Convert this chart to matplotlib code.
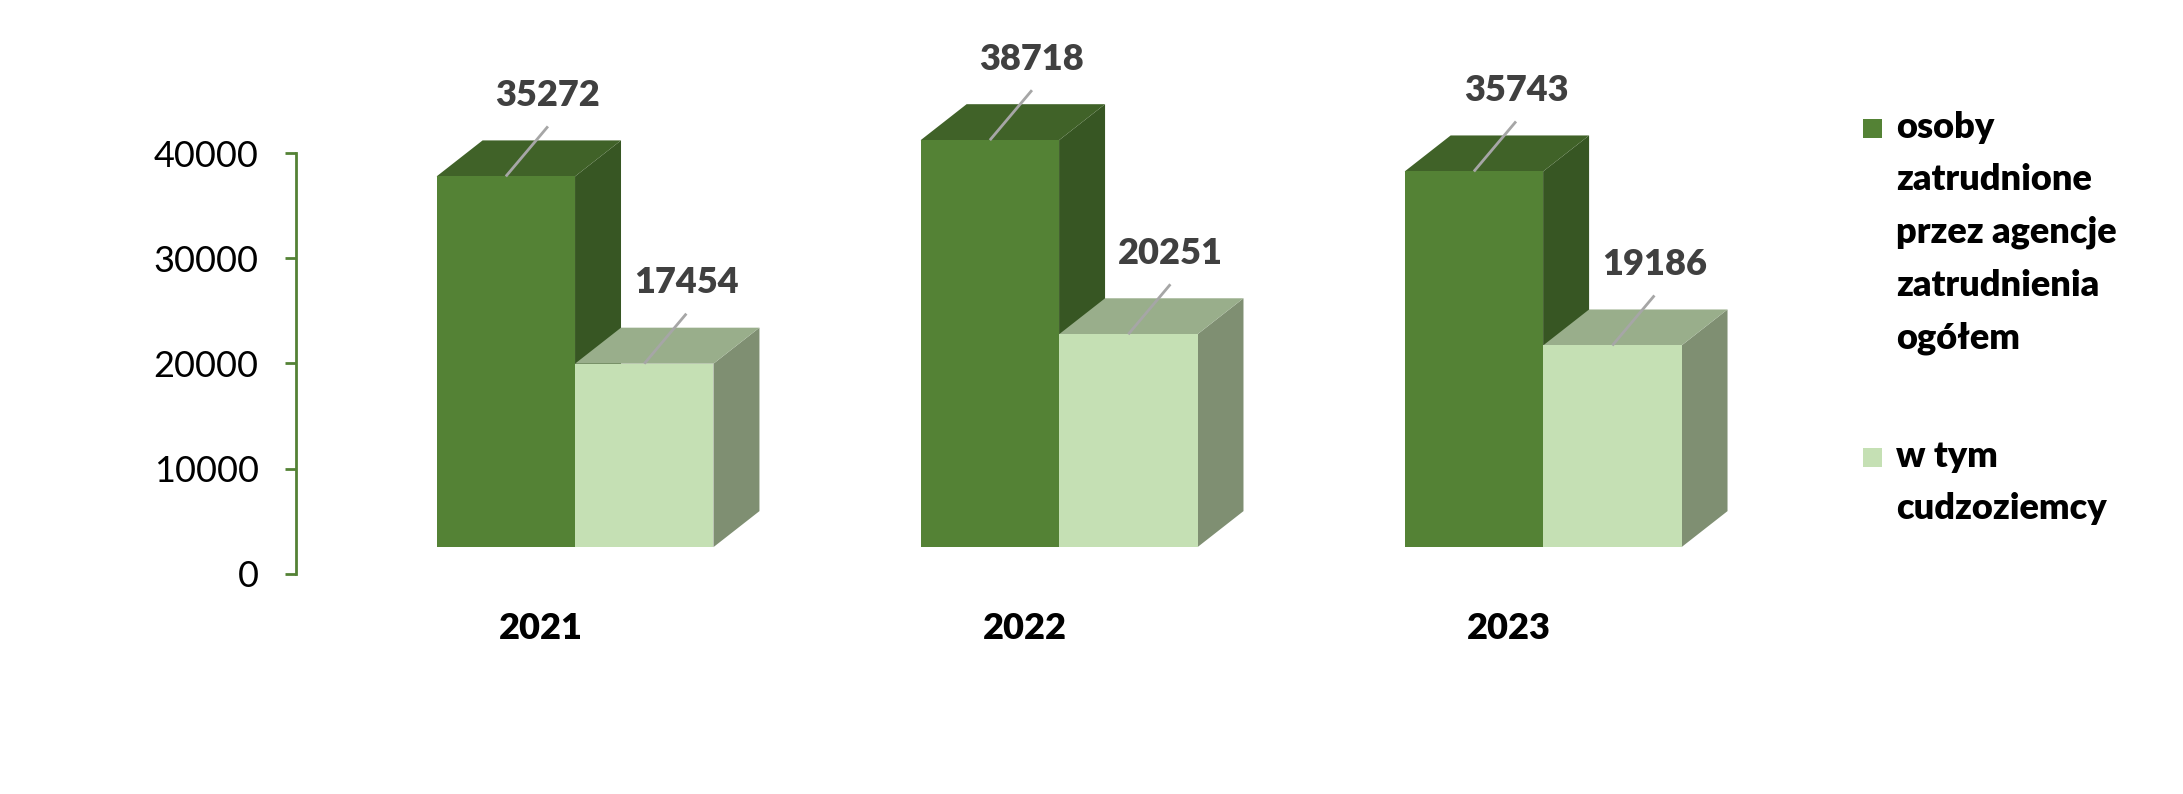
import matplotlib
matplotlib.use("Agg")
import matplotlib.pyplot as plt
from matplotlib.patches import Polygon, Rectangle

years = ["2021", "2022", "2023"]
series_names = ["osoby\nzatrudnione\nprzez agencje\nzatrudnienia\nogółem", "w tym\ncudzoziemcy"]
total = [35272, 38718, 35743]
foreigners = [17454, 20251, 19186]
yticks = [0, 10000, 20000, 30000, 40000]

front_colors = ["#548235", "#c5e0b4"]
top_colors = ["#406228", "#99ae8b"]
side_colors = ["#375623", "#7f8f72"]

plt.rcParams['font.family'] = ['Lato', 'DejaVu Sans']

W, H = 2183, 794
fig = plt.figure(figsize=(W / 100, H / 100), dpi=100)
ax = fig.add_axes([0, 0, 1, 1])
ax.set_xlim(-1.188, 3.322)
ax.set_ylim(-20970, 54576)

bar_w = 0.286
depth_x = 0.095
depth_y = 3425
lift = 2520

for i, vals in enumerate([total, foreigners]):
    for g, v in enumerate(vals):
        x0 = g + (i - 1) * bar_w
        top = lift + v
        side = Polygon([(x0 + bar_w, lift), (x0 + bar_w + depth_x, lift + depth_y),
                        (x0 + bar_w + depth_x, top + depth_y), (x0 + bar_w, top)],
                       closed=True, facecolor=side_colors[i], edgecolor='none', zorder=2 + i * 3)
        topf = Polygon([(x0, top), (x0 + bar_w, top), (x0 + bar_w + depth_x, top + depth_y),
                        (x0 + depth_x, top + depth_y)],
                       closed=True, facecolor=top_colors[i], edgecolor='none', zorder=3 + i * 3)
        ax.add_patch(side)
        ax.add_patch(topf)
    xs = [g + (i - 1) * bar_w for g in range(len(years))]
    ax.bar(xs, vals, width=bar_w, bottom=lift, align='edge', color=front_colors[i],
           edgecolor='none', zorder=4 + i * 3)

# data labels with leader lines
for i, vals in enumerate([total, foreigners]):
    for g, v in enumerate(vals):
        cx = g + (i - 1) * bar_w + bar_w / 2
        top = lift + v
        ax.plot([cx, cx + 0.087], [top, top + 4757], color='#a6a6a6', lw=2, zorder=10,
                solid_capstyle='butt')
        ax.text(cx + 0.087, top + 7700, f"{v}", ha='center', va='center', fontsize=26,
                fontweight='heavy', color='#404040', zorder=11)

# year labels
for g, y in enumerate(years):
    ax.text(g - 0.07, -5176, y, ha='center', va='center', fontsize=26,
            fontweight='heavy', color='black')

# y axis
for s in ['top', 'right', 'bottom']:
    ax.spines[s].set_visible(False)
ax.spines['left'].set_position(('data', -0.576))
ax.spines['left'].set_bounds(0, 40000)
ax.spines['left'].set_color('#548235')
ax.spines['left'].set_linewidth(2)
ax.set_yticks(yticks)
ax.set_yticklabels([str(t) for t in yticks])
ax.tick_params(axis='y', direction='out', length=8, width=2, color='#548235', pad=19,
               labelsize=26, labelcolor='black')
ax.set_xticks([])

# legend
sq = 19 / W
for i, (name, ys) in enumerate(zip(series_names, [128, 457])):
    fig.patches.append(Rectangle((1863 / W, 1 - (ys + 9.5) / H), sq, 19 / H,
                                 transform=fig.transFigure, facecolor=front_colors[i],
                                 edgecolor='none'))
    fig.text(1896 / W, 1 - (ys - 17) / H, name, ha='left', va='top', fontsize=26,
             fontweight='heavy', color='black', linespacing=1.72)

fig.savefig("out.png", dpi=100, facecolor='white')
